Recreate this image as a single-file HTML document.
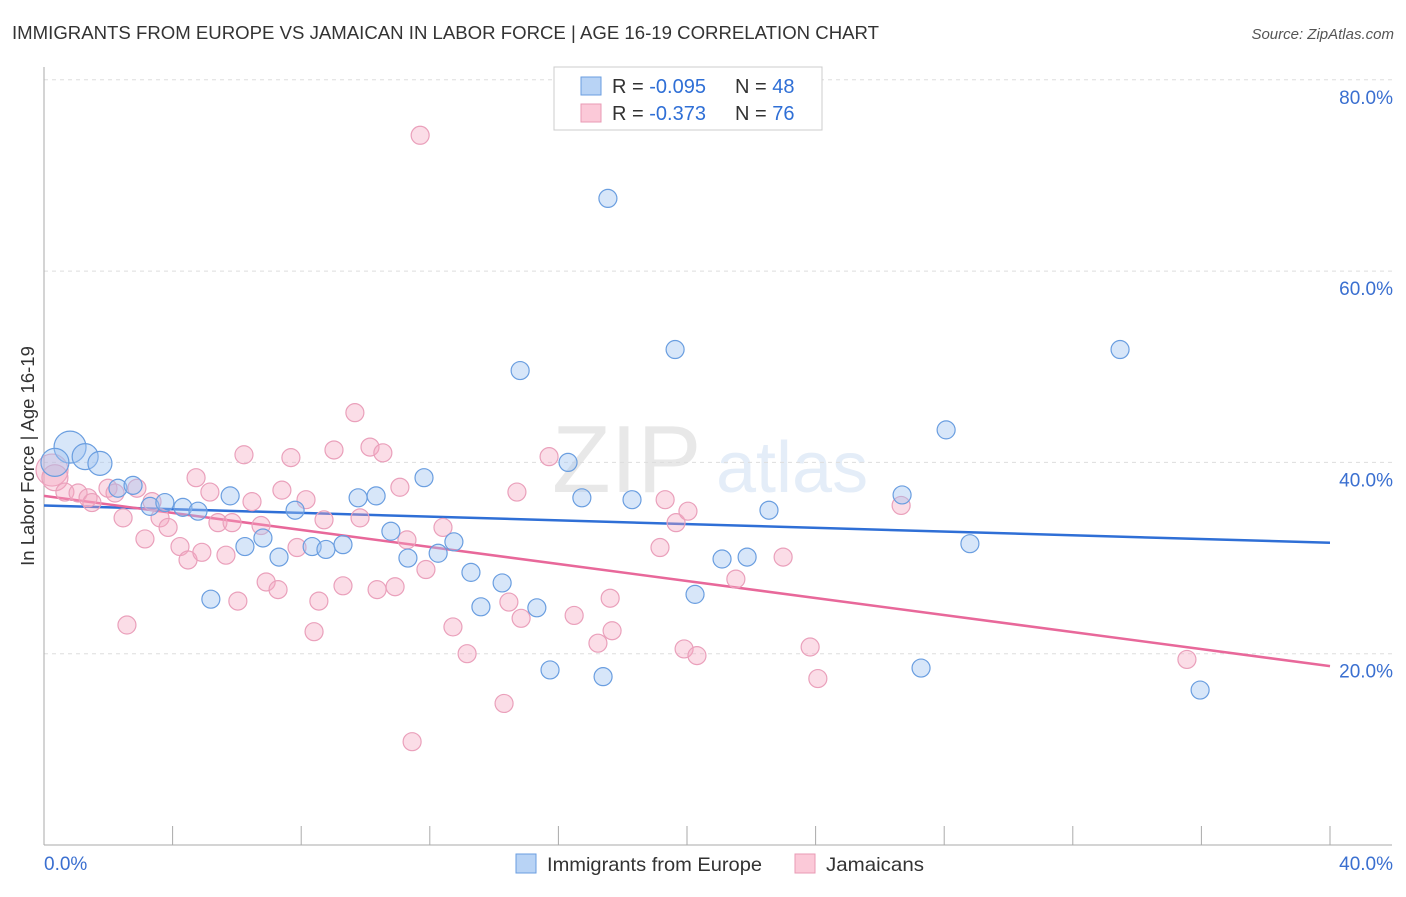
<!DOCTYPE html>
<html><head><meta charset="utf-8"><style>
body{margin:0;background:#fff;font-family:"Liberation Sans",sans-serif;}
svg text{font-family:"Liberation Sans",sans-serif;}
</style></head><body>
<svg id="chart" width="1406" height="892" xmlns="http://www.w3.org/2000/svg">
<text x="12" y="39" font-size="18" fill="#333" textLength="867" lengthAdjust="spacingAndGlyphs">IMMIGRANTS FROM EUROPE VS JAMAICAN IN LABOR FORCE | AGE 16-19 CORRELATION CHART</text>
<text x="1394" y="39" font-size="15" fill="#555" font-style="italic" text-anchor="end">Source: ZipAtlas.com</text>
<g opacity="0.22">
<text x="552" y="492" font-size="96" font-family="Liberation Serif,serif" fill="#999">ZIP</text>
<text x="716" y="492" font-size="72" fill="#8ab0e0">atlas</text>
</g>
<g id="grid"></g>
<g id="axes"></g>
<g id="lines"></g>
<g id="points"></g>
<text transform="translate(34,456) rotate(-90)" font-size="18.5" fill="#333" text-anchor="middle">In Labor Force | Age 16-19</text>
<g>
<rect x="554" y="67" width="268" height="63" fill="#fff" stroke="#ccc"/>
<rect x="581" y="77" width="20" height="18" fill="#b8d3f5" stroke="#6a9ee0"/>
<text x="612" y="93" font-size="20" fill="#333">R = <tspan fill="#2f6fd6">-0.095</tspan></text>
<text x="735" y="93" font-size="20" fill="#333">N = <tspan fill="#2f6fd6">48</tspan></text>
<rect x="581" y="104" width="20" height="18" fill="#fbc9d8" stroke="#e89ab4"/>
<text x="612" y="120" font-size="20" fill="#333">R =  <tspan fill="#2f6fd6">-0.373</tspan></text>
<text x="735" y="120" font-size="20" fill="#333">N =  <tspan fill="#2f6fd6">76</tspan></text>
</g>
<g>
<rect x="516" y="854" width="20" height="19" fill="#b8d3f5" stroke="#6a9ee0"/>
<text x="547" y="871" font-size="19.5" fill="#333" textLength="215" lengthAdjust="spacingAndGlyphs">Immigrants from Europe</text>
<rect x="795" y="854" width="20" height="19" fill="#fbc9d8" stroke="#e89ab4"/>
<text x="826" y="871" font-size="19.5" fill="#333" textLength="98" lengthAdjust="spacingAndGlyphs">Jamaicans</text>
</g>
</svg>
<script>
const xTicks=[0,4,8,12,16,20,24,28,32,36,40];
const yTicks=[20,40,60,80];
const yTickLabels=["20.0%","40.0%","60.0%","80.0%"];
const xEndLabels=["0.0%","40.0%"];
const blueX=[0.81,0.34,1.28,1.74,2.30,2.77,3.30,3.76,4.32,4.79,5.19,5.79,6.25,6.81,7.31,7.81,8.34,8.77,9.30,9.77,10.33,10.79,11.32,11.82,12.26,12.75,13.28,13.59,14.25,14.81,15.33,15.74,16.30,16.73,17.39,17.54,18.29,19.63,20.25,21.09,21.87,22.55,26.69,27.28,28.06,28.80,33.47,35.96];
const blueY=[41.6,40.0,40.6,39.9,37.3,37.6,35.4,35.8,35.3,34.9,25.7,36.5,31.2,32.1,30.1,35.0,31.2,30.9,31.4,36.3,36.5,32.8,30.0,38.4,30.5,31.7,28.5,24.9,27.4,49.6,24.8,18.3,40.0,36.3,17.6,67.6,36.1,51.8,26.2,29.9,30.1,35.0,36.6,18.5,43.4,31.5,51.8,16.2];
const blueSize=[16,14,13,12,9,9,9,9,9,9,9,9,9,9,9,9,9,9,9,9,9,9,9,9,9,9,9,9,9,9,9,9,9,9,9,9,9,9,9,9,9,9,9,9,9,9,9,9];
const pinkX=[0.25,0.34,0.65,1.06,1.37,1.49,1.99,2.21,2.46,2.58,2.89,3.14,3.36,3.61,3.86,4.23,4.48,4.73,4.91,5.16,5.41,5.66,5.85,6.03,6.22,6.47,6.75,6.91,7.28,7.40,7.68,7.87,8.15,8.40,8.55,8.71,9.02,9.30,9.67,9.83,10.14,10.36,10.54,10.92,11.07,11.29,11.45,11.70,11.88,12.41,12.72,13.16,14.31,14.46,14.71,14.84,15.71,16.49,17.23,17.61,17.67,19.16,19.32,19.66,19.91,20.03,20.31,21.52,22.99,23.83,24.07,26.66,35.55];
const pinkY=[39.2,38.4,36.9,36.8,36.3,35.8,37.3,36.8,34.2,23.0,37.3,32.0,35.9,34.2,33.2,31.2,29.8,38.4,30.6,36.9,33.7,30.3,33.7,25.5,40.8,35.9,33.4,27.5,26.7,37.1,40.5,31.1,36.1,22.3,25.5,34.0,41.3,27.1,45.2,34.2,41.6,26.7,41.0,27.0,37.4,31.9,10.8,74.2,28.8,33.2,22.8,20.0,14.8,25.4,36.9,23.7,40.6,24.0,21.1,25.8,22.4,31.1,36.1,33.7,20.5,34.9,19.8,27.8,30.1,20.7,17.4,35.5,19.4];
const pinkSize=pinkX.map((v,i)=>i===0?16:(i===1?13:9));
const blueTrend=[35.5,31.6];
const pinkTrend=[36.5,18.7];
const X0=44,X1=1330,Y0=845,YPX=9.565;
const sx=v=>X0+(v/40)*(X1-X0);
const sy=v=>Y0-v*YPX;
const NS="http://www.w3.org/2000/svg";
function mk(tag,attrs,parent){const e=document.createElementNS(NS,tag);for(const k in attrs)e.setAttribute(k,attrs[k]);document.getElementById(parent).appendChild(e);return e;}
yTicks.forEach((t,i)=>{
 const g=mk('line',{x1:44,x2:1392,y1:sy(t),y2:sy(t),stroke:'#ddd','stroke-dasharray':'4,4'},'grid');
 
 
 const l=mk('text',{x:1393,y:sy(t)+24,'font-size':19,fill:'#3a6fd0','text-anchor':'end'},'axes');
 l.textContent=yTickLabels[i];
 
 
});
const ax=mk('line',{x1:44,x2:1392,y1:845,y2:845,stroke:'#aaa'},'axes');


const ay=mk('line',{x1:44,x2:44,y1:67,y2:845,stroke:'#aaa'},'axes');


xTicks.forEach(t=>{
 const tk=mk('line',{x1:sx(t),x2:sx(t),y1:826,y2:845,stroke:'#aaa'},'axes');
 
 
});
const xl0=mk('text',{x:44,y:870,'font-size':19,fill:'#3a6fd0'},'axes');
xl0.textContent=xEndLabels[0];


const xl1=mk('text',{x:1393,y:870,'font-size':19,fill:'#3a6fd0','text-anchor':'end'},'axes');
xl1.textContent=xEndLabels[1];


pinkX.forEach((x,i)=>{
 const c=mk('circle',{cx:sx(x),cy:sy(pinkY[i]),r:pinkSize[i],fill:'rgba(245,165,192,0.38)',stroke:'#eaa0bb','stroke-width':1.2},'points');
 
 
});
blueX.forEach((x,i)=>{
 const c=mk('circle',{cx:sx(x),cy:sy(blueY[i]),r:blueSize[i],fill:'rgba(160,196,240,0.42)',stroke:'#6a9ee0','stroke-width':1.2},'points');
 
 
});
const lb=mk('line',{x1:sx(0),y1:sy(blueTrend[0]),x2:sx(40),y2:sy(blueTrend[1]),stroke:'#2f6fd6','stroke-width':2.5},'lines');


const lp=mk('line',{x1:sx(0),y1:sy(pinkTrend[0]),x2:sx(40),y2:sy(pinkTrend[1]),stroke:'#e8689a','stroke-width':2.5},'lines');


</script>
</body></html>
